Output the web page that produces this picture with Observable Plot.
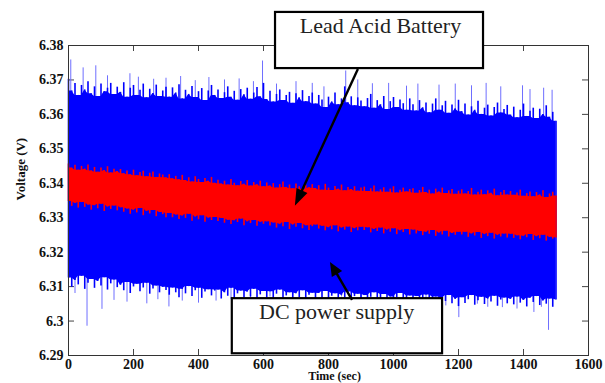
<!DOCTYPE html>
<html><head><meta charset="utf-8">
<script src="https://cdn.jsdelivr.net/npm/d3@7"></script>
<script src="https://cdn.jsdelivr.net/npm/@observablehq/plot@0.6"></script>
<style>html,body{margin:0;padding:0;background:#fff;} svg{display:block}</style>
</head><body><div id="chart"></div>
<script>
// sample times (sec)
const timeSec = [0,10,20,30,40,50,60,70,80,90,100,110,120,130,140,150,
160,170,180,190,200,210,220,230,240,250,260,270,280,290,300,
310,320,330,340,350,360,370,380,390,400,410,420,430,440,450,
460,470,480,490,500,510,520,530,540,550,560,570,580,590,600,
610,620,630,640,650,660,670,680,690,700,710,720,730,740,750,
760,770,780,790,800,810,820,830,840,850,860,870,880,890,900,
910,920,930,940,950,960,970,980,990,1000,1010,1020,1030,1040,1050,
1060,1070,1080,1090,1100,1110,1120,1130,1140,1150,1160,1170,1180,1190,1200,
1210,1220,1230,1240,1250,1260,1270,1280,1290,1300,1310,1320,1330,1340,1350,
1360,1370,1380,1390,1400,1410,1420,1430,1440,1450,1460,1470,1480,1490,1500];

// DC power supply: upper / lower envelope of the noisy signal (V)
const dcHigh = [6.3702,6.3668,6.3690,6.3655,6.3684,6.3671,6.3695,6.3660,6.3680,6.3652,6.3688,6.3666,6.3676,6.3690,6.3658,6.3679,
6.3664,6.3692,6.3650,6.3676,6.3684,6.3655,6.3670,6.3688,6.3648,6.3673,6.3661,6.3685,6.3652,6.3668,6.3679,
6.3650,6.3677,6.3662,6.3686,6.3645,6.3670,6.3658,6.3681,6.3649,6.3666,6.3675,6.3640,6.3668,6.3684,6.3655,
6.3671,6.3646,6.3663,6.3680,6.3650,6.3667,6.3641,6.3672,6.3657,6.3676,6.3644,6.3662,6.3678,6.3651,6.3690,
6.3643,6.3667,6.3636,6.3658,6.3671,6.3640,6.3655,6.3664,6.3632,6.3660,6.3648,6.3669,6.3637,6.3652,6.3662,
6.3630,6.3655,6.3642,6.3620,6.3650,6.3636,6.3662,6.3628,6.3645,6.3680,6.3634,6.3651,6.3625,6.3648,6.3639,
6.3622,6.3646,6.3658,6.3618,6.3640,6.3628,6.3652,6.3614,6.3637,6.3649,6.3620,6.3642,6.3631,6.3612,6.3645,
6.3628,6.3610,6.3640,6.3619,6.3633,6.3605,6.3630,6.3645,6.3612,6.3625,6.3638,6.3603,6.3627,6.3616,6.3641,
6.3608,6.3630,6.3598,6.3622,6.3612,6.3638,6.3600,6.3618,6.3627,6.3595,6.3620,6.3633,6.3604,6.3614,6.3626,
6.3598,6.3621,6.3590,6.3612,6.3630,6.3594,6.3609,6.3618,6.3588,6.3615,6.3600,6.3625,6.3592,6.3606,6.3580];
const dcLow = [6.3125,6.3098,6.3118,6.3105,6.3130,6.3092,6.3110,6.3121,6.3095,6.3115,6.3102,6.3126,6.3090,6.3108,6.3119,6.3097,
6.3104,6.3088,6.3112,6.3080,6.3099,6.3107,6.3085,6.3096,6.3110,6.3078,6.3093,6.3102,6.3082,6.3098,6.3089,
6.3075,6.3096,6.3082,6.3068,6.3092,6.3079,6.3100,6.3071,6.3088,6.3095,6.3066,6.3084,6.3091,6.3073,6.3087,
6.3090,6.3064,6.3082,6.3072,6.3095,6.3061,6.3079,6.3087,6.3068,6.3084,6.3070,6.3092,6.3063,6.3076,6.3086,
6.3067,6.3085,6.3060,6.3078,6.3090,6.3064,6.3073,6.3082,6.3057,6.3079,6.3068,6.3088,6.3062,6.3075,6.3081,
6.3060,6.3080,6.3066,6.3086,6.3055,6.3072,6.3079,6.3058,6.3075,6.3067,6.3084,6.3053,6.3071,6.3078,6.3062,
6.3074,6.3056,6.3069,6.3082,6.3051,6.3066,6.3077,6.3059,6.3070,6.3048,6.3068,6.3080,6.3055,6.3063,6.3073,
6.3055,6.3071,6.3049,6.3064,6.3076,6.3052,6.3060,6.3070,6.3045,6.3066,6.3057,6.3074,6.3050,6.3063,6.3042,
6.3068,6.3051,6.3062,6.3074,6.3046,6.3059,6.3069,6.3048,6.3064,6.3055,6.3072,6.3043,6.3061,6.3067,6.3050,
6.3063,6.3047,6.3070,6.3052,6.3060,6.3041,6.3066,6.3054,6.3071,6.3045,6.3058,6.3049,6.3064,6.3040,6.3061];

// Lead acid battery: upper / lower envelope (V)
const batHigh = [6.3456,6.3444,6.3452,6.3438,6.3449,6.3441,6.3453,6.3436,6.3446,6.3432,6.3444,6.3437,6.3448,6.3430,6.3441,6.3434,
6.3440,6.3428,6.3436,6.3425,6.3438,6.3422,6.3431,6.3435,6.3419,6.3429,6.3433,6.3417,6.3427,6.3424,6.3416,
6.3425,6.3413,6.3420,6.3410,6.3423,6.3408,6.3416,6.3404,6.3419,6.3411,6.3402,6.3414,6.3406,6.3417,6.3400,
6.3409,6.3398,6.3406,6.3395,6.3411,6.3400,6.3393,6.3405,6.3397,6.3408,6.3392,6.3402,6.3396,6.3406,6.3390,
6.3401,6.3392,6.3399,6.3386,6.3396,6.3404,6.3388,6.3395,6.3384,6.3398,6.3390,6.3383,6.3394,6.3387,6.3396,
6.3385,6.3393,6.3380,6.3397,6.3386,6.3379,6.3391,6.3383,6.3395,6.3378,6.3388,6.3382,6.3390,6.3377,6.3386,
6.3389,6.3376,6.3384,6.3392,6.3375,6.3381,6.3387,6.3374,6.3383,6.3390,6.3372,6.3380,6.3386,6.3375,6.3382,
6.3384,6.3371,6.3379,6.3388,6.3373,6.3380,6.3369,6.3383,6.3375,6.3386,6.3370,6.3378,6.3382,6.3368,6.3377,
6.3381,6.3369,6.3376,6.3385,6.3366,6.3374,6.3380,6.3367,6.3378,6.3371,6.3383,6.3364,6.3373,6.3379,6.3366,
6.3376,6.3365,6.3372,6.3380,6.3362,6.3370,6.3375,6.3361,6.3373,6.3366,6.3378,6.3359,6.3369,6.3374,6.3363];
const batLow = [6.3347,6.3333,6.3341,6.3328,6.3344,6.3330,6.3337,6.3322,6.3335,6.3326,6.3339,6.3318,6.3331,6.3324,6.3334,6.3320,
6.3329,6.3316,6.3325,6.3310,6.3322,6.3314,6.3327,6.3306,6.3318,6.3311,6.3321,6.3303,6.3315,6.3309,6.3300,
6.3312,6.3300,6.3308,6.3295,6.3305,6.3298,6.3310,6.3290,6.3302,6.3294,6.3306,6.3287,6.3299,6.3292,6.3301,
6.3289,6.3298,6.3284,6.3293,6.3280,6.3291,6.3286,6.3296,6.3277,6.3288,6.3283,6.3292,6.3275,6.3287,6.3281,
6.3288,6.3276,6.3285,6.3270,6.3281,6.3274,6.3286,6.3266,6.3279,6.3272,6.3283,6.3268,6.3277,6.3263,6.3274,
6.3279,6.3267,6.3275,6.3262,6.3271,6.3265,6.3277,6.3259,6.3270,6.3264,6.3273,6.3257,6.3268,6.3262,6.3272,
6.3263,6.3271,6.3256,6.3266,6.3260,6.3270,6.3253,6.3264,6.3258,6.3268,6.3251,6.3262,6.3257,6.3266,6.3250,
6.3264,6.3253,6.3260,6.3248,6.3258,6.3252,6.3263,6.3246,6.3256,6.3250,6.3261,6.3244,6.3254,6.3249,6.3258,
6.3250,6.3258,6.3243,6.3253,6.3247,6.3257,6.3240,6.3251,6.3245,6.3255,6.3238,6.3249,6.3244,6.3253,6.3241,
6.3252,6.3240,6.3248,6.3236,6.3246,6.3242,6.3251,6.3234,6.3245,6.3239,6.3249,6.3232,6.3243,6.3238,6.3241];

// isolated DC spikes (time sec, voltage V)
const spikeUpT = [7,45,84,120,189,215,262,300,345,390,432,480,525,569,597,640,700,750,786,853,890,935,985,1040,1075,1140,1190,1240,1285,1330,1397,1420,1462,1488];
const spikeUpV = [6.3758,6.3735,6.3741,6.3712,6.3718,6.3708,6.3702,6.3705,6.3710,6.3698,6.3707,6.3700,6.3703,6.3695,6.3755,6.3688,6.3695,6.3690,6.3680,6.3726,6.3700,6.3689,6.3690,6.3682,6.3688,6.3685,6.3688,6.3683,6.3690,6.3680,6.3683,6.3672,6.3676,6.3670];
const spikeDownT = [20,57,103,140,180,241,275,309,350,400,454,500,560,620,690,760,840,900,960,1040,1100,1161,1201,1258,1290,1335,1380,1432,1455,1477];
const spikeDownV = [6.3080,6.2985,6.3034,6.3060,6.3055,6.3050,6.3062,6.3041,6.3058,6.3052,6.3058,6.3062,6.3068,6.3070,6.3066,6.3068,6.3070,6.3064,6.3066,6.3063,6.3060,6.3044,6.3010,6.3049,6.3040,6.3039,6.3035,6.3025,6.3040,6.2973];

const xTicks = [0,200,400,600,800,1000,1200,1400,1600];
const yTicks = [6.29,6.30,6.31,6.32,6.33,6.34,6.35,6.36,6.37,6.38];
const xLabel = "Time (sec)";
const yLabel = "Voltage (V)";

// annotation callouts (data units)
const noteText = ["Lead Acid Battery", "DC power supply"];
const noteBoxX1 = [637, 504];
const noteBoxX2 = [1277, 1151];
const noteBoxY1 = [6.3733, 6.2905];
const noteBoxY2 = [6.3896, 6.3065];
const noteTextX = [960, 825];
const noteTextY = [6.3835, 6.3005];
const arrowFromX = [892, 874];
const arrowFromY = [6.3730, 6.3060];
const arrowToX = [698, 806];
const arrowToY = [6.3333, 6.3170];

const idx = timeSec.map((_, i) => i);
const upIdx = spikeUpT.map((_, i) => i);
const downIdx = spikeDownT.map((_, i) => i);
const noteIdx = noteText.map((_, i) => i);

// solid core of each band: the lowest top / highest bottom among neighbouring samples
const near = i => [i - 1, i, i + 1].filter(j => j >= 0 && j < timeSec.length);
const coreHi = arr => idx.map(i => d3.min(near(i), j => arr[j]));
const coreLo = arr => idx.map(i => d3.max(near(i), j => arr[j]));
const dcCoreHi = coreHi(dcHigh), dcCoreLo = coreLo(dcLow);
const batCoreHi = coreHi(batHigh), batCoreLo = coreLo(batLow);

const serif = "Liberation Serif";

const chart = Plot.plot({
  width: 605, height: 383,
  marginTop: 45, marginBottom: 28, marginLeft: 68, marginRight: 17,
  x: {domain: [0, 1600]},
  y: {domain: [6.29, 6.38]},
  style: {fontFamily: serif, fontSize: "14px", fontWeight: "bold", color: "#111", background: "#fff", overflow: "visible"},
  marks: [
    Plot.tickY(yTicks, {y: d => d, insetRight: 514, stroke: "#444"}),
    Plot.tickY(yTicks, {y: d => d, insetLeft: 514, stroke: "#444"}),
    Plot.tickX(xTicks, {x: d => d, insetBottom: 304, stroke: "#444"}),
    Plot.tickX(xTicks, {x: d => d, insetTop: 304, stroke: "#444"}),
    Plot.ruleX(upIdx, {x: i => spikeUpT[i], y1: 6.345, y2: i => spikeUpV[i], stroke: "#6e6eff", strokeWidth: 1}),
    Plot.ruleX(downIdx, {x: i => spikeDownT[i], y1: i => spikeDownV[i], y2: 6.335, stroke: "#6e6eff", strokeWidth: 1}),
    Plot.areaY(idx, {x: i => timeSec[i], y1: i => dcCoreLo[i], y2: i => dcCoreHi[i], fill: "#0000ff"}),
    Plot.ruleX(idx, {x: i => timeSec[i], y1: i => dcLow[i], y2: i => dcHigh[i], stroke: "#0000ff", strokeWidth: 1.6}),
    Plot.areaY(idx, {x: i => timeSec[i], y1: i => batCoreLo[i], y2: i => batCoreHi[i], fill: "#ff0000"}),
    Plot.ruleX(idx, {x: i => timeSec[i], y1: i => batLow[i], y2: i => batHigh[i], stroke: "#ff0000", strokeWidth: 1.6}),
    Plot.frame({stroke: "#333", strokeWidth: 1}),
    Plot.axisY({ticks: yTicks, tickSize: 0, tickPadding: 5, tickFormat: d => String(+d.toFixed(2)), label: null, fontFamily: serif, fontWeight: "bold", fontSize: 14}),
    Plot.axisX({ticks: xTicks, tickSize: 0, tickPadding: 4, tickFormat: d => String(d), label: null, fontFamily: serif, fontWeight: "bold", fontSize: 14}),
    Plot.text([yLabel], {text: d => d, frameAnchor: "left", dx: -48, rotate: -90, fontSize: 13, fontFamily: serif, fontWeight: "bold"}),
    Plot.text([xLabel], {text: d => d, frameAnchor: "bottom", dx: 6, dy: 16, lineAnchor: "top", fontSize: 12, fontFamily: serif, fontWeight: "bold"}),
    Plot.rect(noteIdx, {x1: i => noteBoxX1[i], x2: i => noteBoxX2[i], y1: i => noteBoxY1[i], y2: i => noteBoxY2[i], fill: "#fff", stroke: "#000", strokeWidth: 2.2}),
    Plot.text(noteIdx, {x: i => noteTextX[i], y: i => noteTextY[i], text: i => noteText[i], fontSize: 22, fontWeight: "normal", fontFamily: serif, fill: "#222", lineAnchor: "bottom"})
  ]
});

// arrows with filled heads, positioned through the plot's scales
const sx = chart.scale("x"), sy = chart.scale("y");
const svg = d3.select(chart);
const g = svg.append("g");
noteIdx.forEach(i => {
  const x0 = sx.apply(arrowFromX[i]), y0 = sy.apply(arrowFromY[i]);
  const x1 = sx.apply(arrowToX[i]), y1 = sy.apply(arrowToY[i]);
  const dx = x1 - x0, dy = y1 - y0, len = Math.hypot(dx, dy);
  const ux = dx / len, uy = dy / len;
  const hl = i === 0 ? 17 : 14, hw = 6;
  const bx = x1 - ux * hl, by = y1 - uy * hl;
  g.append("line").attr("x1", x0).attr("y1", y0).attr("x2", bx + ux * 2).attr("y2", by + uy * 2)
    .attr("stroke", "#000").attr("stroke-width", 2.4);
  g.append("polygon")
    .attr("points", [[x1, y1], [bx - uy * hw, by + ux * hw], [bx + uy * hw, by - ux * hw]].map(p => p.join(",")).join(" "))
    .attr("fill", "#000");
});

document.getElementById("chart").appendChild(chart);
</script>
</body></html>
